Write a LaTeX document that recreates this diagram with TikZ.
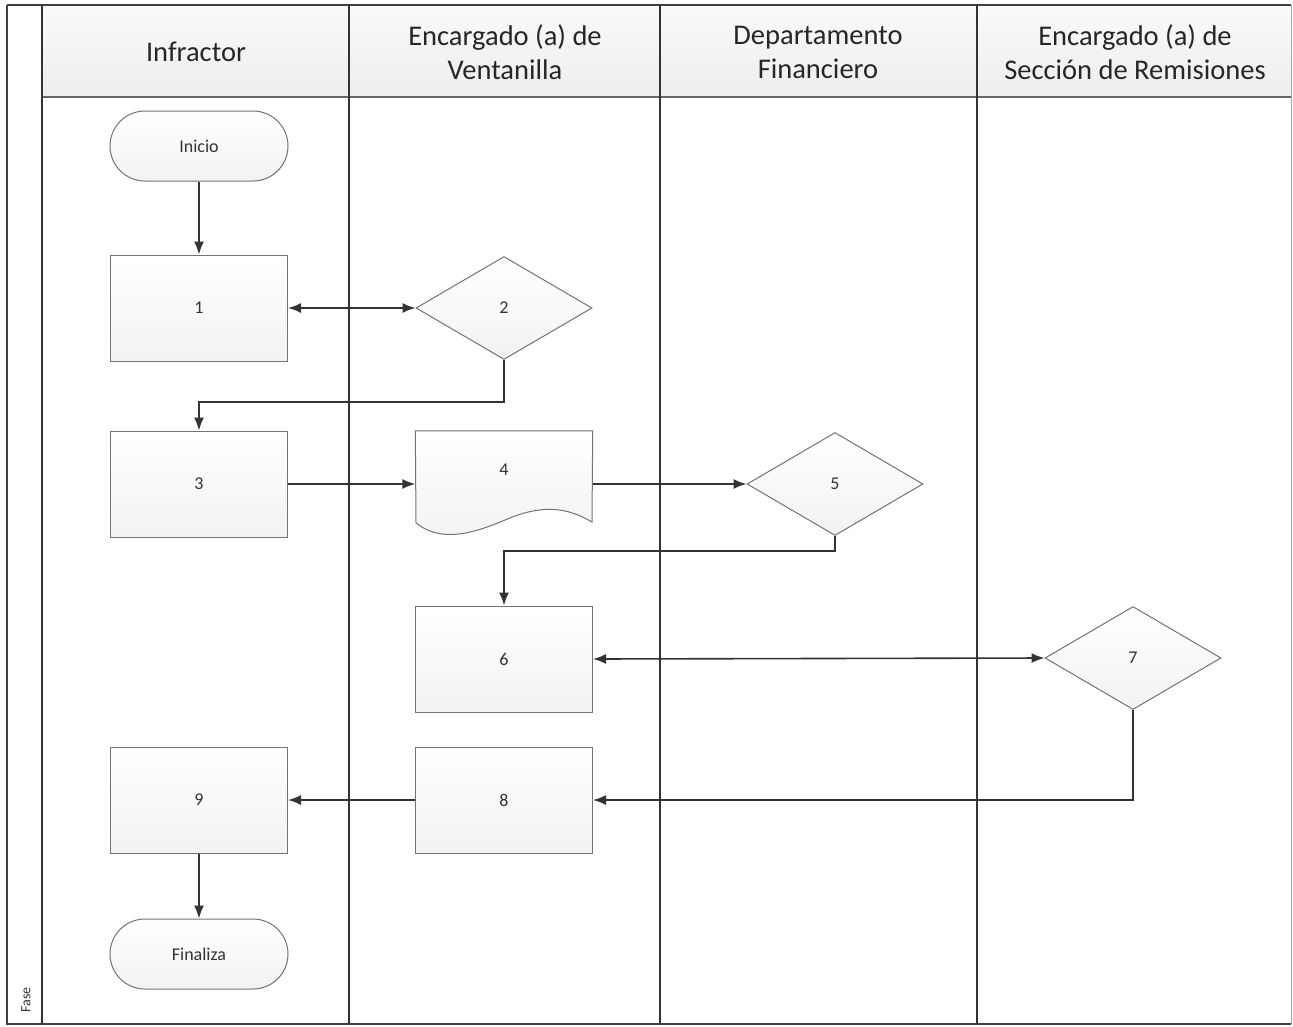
\documentclass[tikz,border=0pt]{standalone}
\usepackage{fontspec}
\setmainfont{Carlito}
\usetikzlibrary{shapes.geometric,arrows.meta,calc}
\begin{document}
\begin{tikzpicture}[x=1pt,y=-1pt,
  lane/.style={line width=1.8pt,draw=black!80},
  hdr/.style={font=\fontsize{28.5}{34}\selectfont, align=center, text=black!85},
  shp/.style={draw=black!55, line width=1pt, top color=white, bottom color=black!5,
              font=\fontsize{18}{20}\selectfont, text=black!80, inner sep=0pt},
  proc/.style={shp, rectangle, minimum width=177pt, minimum height=106pt},
  term/.style={shp, rectangle, rounded corners=35pt, minimum width=178pt, minimum height=70pt},
  dec/.style={shp, diamond, minimum width=176pt, minimum height=103pt},
  arr/.style={line width=1.6pt, draw=black!80, -{Latex[length=13pt,width=10pt]}},
  darr/.style={line width=1.6pt, draw=black!80, {Latex[length=13pt,width=10pt]}-{Latex[length=13pt,width=10pt]}}
]
\useasboundingbox (0,0) rectangle (1293,1026);
\fill[white] (0,0) rectangle (1293,1026);
% header background
\shade[top color=black!2, bottom color=black!7] (42,5) rectangle (1291,97);
% frame
\draw[line width=1.5pt, draw=black!75] (7,5) -- (1291,5);
\draw[line width=1.5pt, draw=black!75] (7,5) -- (7,1024) -- (1291,1024);
\draw[line width=1pt, draw=black!35] (1291,5) -- (1291,1024);
\draw[line width=1.5pt, draw=black!60] (42,97) -- (1291,97);
\foreach \xx in {42,349,660,977} \draw[lane] (\xx,5) -- (\xx,1024);
% headers
\node[hdr] (h1) at (196,52) {Infractor};
\node[hdr] (h2) at (505,52) {Encargado (a) de\\Ventanilla};
\node[hdr] (h3) at (818,52) {Departamento\\Financiero};
\node[hdr] (h4) at (1135,52) {Encargado (a) de\\Sección de Remisiones};
\node[rotate=90, font=\fontsize{14}{16}\selectfont, text=black!80] (fase) at (26,1000) {Fase};
% shapes
\node[term] (ini) at (199,146) {Inicio};
\node[proc] (p1) at (199,308) {1};
\node[dec] (d2) at (504,308) {2};
\node[proc] (p3) at (199,484) {3};
\node[minimum width=177pt, minimum height=106pt, inner sep=0pt] (doc4) at (504,484) {};
\node[dec] (d5) at (835,484) {5};
\node[proc] (p6) at (504,659) {6};
\node[dec] (d7) at (1133,658) {7};
\node[proc] (p8) at (504,800) {8};
\node[proc] (p9) at (199,800) {9};
\node[term] (fin) at (199,954) {Finaliza};
% document shape outline
\path[draw=black!55, line width=1pt, top color=white, bottom color=black!5]
  (doc4.north west) -- (doc4.north east) -- (592,522)
  .. controls (565,506) and (540,505) .. (505,520)
  .. controls (470,535) and (440,542) .. (416,523) -- cycle;
\node[font=\fontsize{18}{20}\selectfont, text=black!80] (t4) at (504,470) {4};
% connectors
\draw[arr] (ini) -- (p1);
\draw[darr] (p1.east) -- (d2.west);
\draw[arr] (d2.south) -- ++(0,42) -| (p3.north);
\draw[arr] (p3.east) -- (doc4.west);
\draw[arr] (doc4.east) -- (d5.west);
\draw[arr] (d5.south) -- ++(0,15) -| (p6.north);
\draw[darr] (p6.east) -- (d7.west);
\draw[arr] (d7.south) |- (p8.east);
\draw[arr] (p8.west) -- (p9.east);
\draw[arr] (p9) -- (fin);
\end{tikzpicture}
\end{document}
